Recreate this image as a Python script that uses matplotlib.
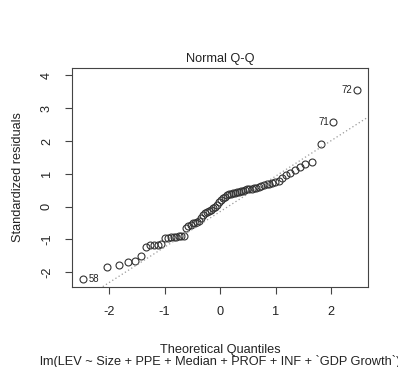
import numpy as np
import matplotlib
matplotlib.use("Agg")
import matplotlib.pyplot as plt

plt.rcParams['font.family'] = ['Liberation Sans', 'DejaVu Sans']

# sorted standardized residuals (72 observations)
std_resid = [
    -2.19, -1.83, -1.77, -1.69, -1.65, -1.49, -1.24, -1.18, -1.17, -1.16,
    -1.15, -0.97, -0.95, -0.94, -0.93, -0.91, -0.90, -0.89, -0.88, -0.66,
    -0.58, -0.55, -0.51, -0.49, -0.47, -0.43, -0.34, -0.26, -0.19, -0.16,
    -0.12, -0.09, -0.05, -0.01, 0.05, 0.13, 0.19, 0.26, 0.30, 0.34,
    0.37, 0.39, 0.41, 0.43, 0.45, 0.46, 0.48, 0.49, 0.51, 0.53,
    0.54, 0.55, 0.56, 0.57, 0.60, 0.63, 0.65, 0.68, 0.70, 0.72,
    0.75, 0.78, 0.87, 0.96, 1.03, 1.11, 1.21, 1.31, 1.36, 1.91,
    2.59, 3.56,
]
# observation ids for the three most extreme points
id_labels = {0: "58", 70: "71", 71: "72"}

title = "Normal Q-Q"
xlabel = "Theoretical Quantiles"
ylabel = "Standardized residuals"
caption = "lm(LEV ~ Size + PPE + Median + PROF + INF + `GDP Growth`)"


def ppoints(n):
    a = 3.0 / 8 if n <= 10 else 0.5
    return (np.arange(1, n + 1) - a) / (n + 1 - 2 * a)


def qnorm(p):
    # inverse normal cdf (Acklam's rational approximation)
    a = [-3.969683028665376e+01, 2.209460984245205e+02, -2.759285104469687e+02,
         1.383577518672690e+02, -3.066479806614716e+01, 2.506628277459239e+00]
    b = [-5.447609879822406e+01, 1.615858368580409e+02, -1.556989798598866e+02,
         6.680131188771972e+01, -1.328068155288572e+01]
    c = [-7.784894002430293e-03, -3.223964580411365e-01, -2.400758277161838e+00,
         -2.549732539343734e+00, 4.374664141464968e+00, 2.938163982698783e+00]
    d = [7.784695709041462e-03, 3.224671290700398e-01, 2.445134137142996e+00,
         3.754408661907416e+00]
    p = np.asarray(p, dtype=float)
    out = np.empty_like(p)
    lo = p < 0.02425
    hi = p > 1 - 0.02425
    mid = ~(lo | hi)
    q = np.sqrt(-2 * np.log(p[lo]))
    out[lo] = (((((c[0]*q+c[1])*q+c[2])*q+c[3])*q+c[4])*q+c[5]) / \
              ((((d[0]*q+d[1])*q+d[2])*q+d[3])*q+1)
    q = np.sqrt(-2 * np.log(1 - p[hi]))
    out[hi] = -(((((c[0]*q+c[1])*q+c[2])*q+c[3])*q+c[4])*q+c[5]) / \
               ((((d[0]*q+d[1])*q+d[2])*q+d[3])*q+1)
    q = p[mid] - 0.5
    r = q * q
    out[mid] = (((((a[0]*r+a[1])*r+a[2])*r+a[3])*r+a[4])*r+a[5])*q / \
               (((((b[0]*r+b[1])*r+b[2])*r+b[3])*r+b[4])*r+1)
    return out


y = np.array(std_resid)
x = qnorm(ppoints(len(y)))

# qqline through the quartiles
yq = np.quantile(y, [0.25, 0.75])
xq = qnorm(np.array([0.25, 0.75]))
slope = (yq[1] - yq[0]) / (xq[1] - xq[0])
intercept = yq[0] - slope * xq[0]

fs = 9.2
dark = "#222222"

fig = plt.figure(figsize=(3.98, 3.67), dpi=100)
ax = fig.add_axes([0.182, 0.219, 0.742, 0.597])

ax.plot(x, y, linestyle="none", marker="o", markersize=5, markerfacecolor="none",
        markeredgecolor="#333333", markeredgewidth=0.8)
ax.axline((0, intercept), slope=slope, color="#999999", lw=0.9, dashes=(1, 2))

for i, lab in id_labels.items():
    if x[i] < 0:
        ax.annotate(lab, (x[i], y[i]), xytext=(3.5, 0), textcoords="offset points",
                    ha="left", va="center", fontsize=fs * 0.75, color=dark)
    else:
        ax.annotate(lab, (x[i], y[i]), xytext=(-3.2, 0), textcoords="offset points",
                    ha="right", va="center", fontsize=fs * 0.75, color=dark)

# R-style limits: 4% padding, extra headroom for labels
xr = x.max() - x.min()
ax.set_xlim(x.min() - 0.04 * xr, x.max() + 0.04 * xr)
ylo, yhi = y.min(), y.max() + 0.075 * (y.max() - y.min())
yr = yhi - ylo
ax.set_ylim(ylo - 0.04 * yr, yhi + 0.04 * yr)

ax.set_xticks([-2, -1, 0, 1, 2])
ax.set_yticks([-2, -1, 0, 1, 2, 3, 4])
ax.set_xticklabels(["-2", "-1", "0", "1", "2"])
ax.set_yticklabels(["-2", "-1", "0", "1", "2", "3", "4"], rotation=90, va="center")
ax.tick_params(direction="out", length=5, width=0.8, colors="#444444",
               labelcolor=dark, labelsize=fs, pad=9)
for s in ax.spines.values():
    s.set_color("#444444")
    s.set_linewidth(0.8)

ax.set_title(title, fontsize=fs, color=dark, pad=4)
fig.text(0.046, 0.518, ylabel, rotation=90, ha="center", va="center",
         fontsize=fs, color=dark)
fig.text(0.553, 1 - 349.5 / 367, xlabel, ha="center", va="center",
         fontsize=fs, color=dark)
fig.text(0.553, 1 - 361 / 367, caption, ha="center", va="center",
         fontsize=fs, color=dark)

fig.savefig("out.png", dpi=100)
